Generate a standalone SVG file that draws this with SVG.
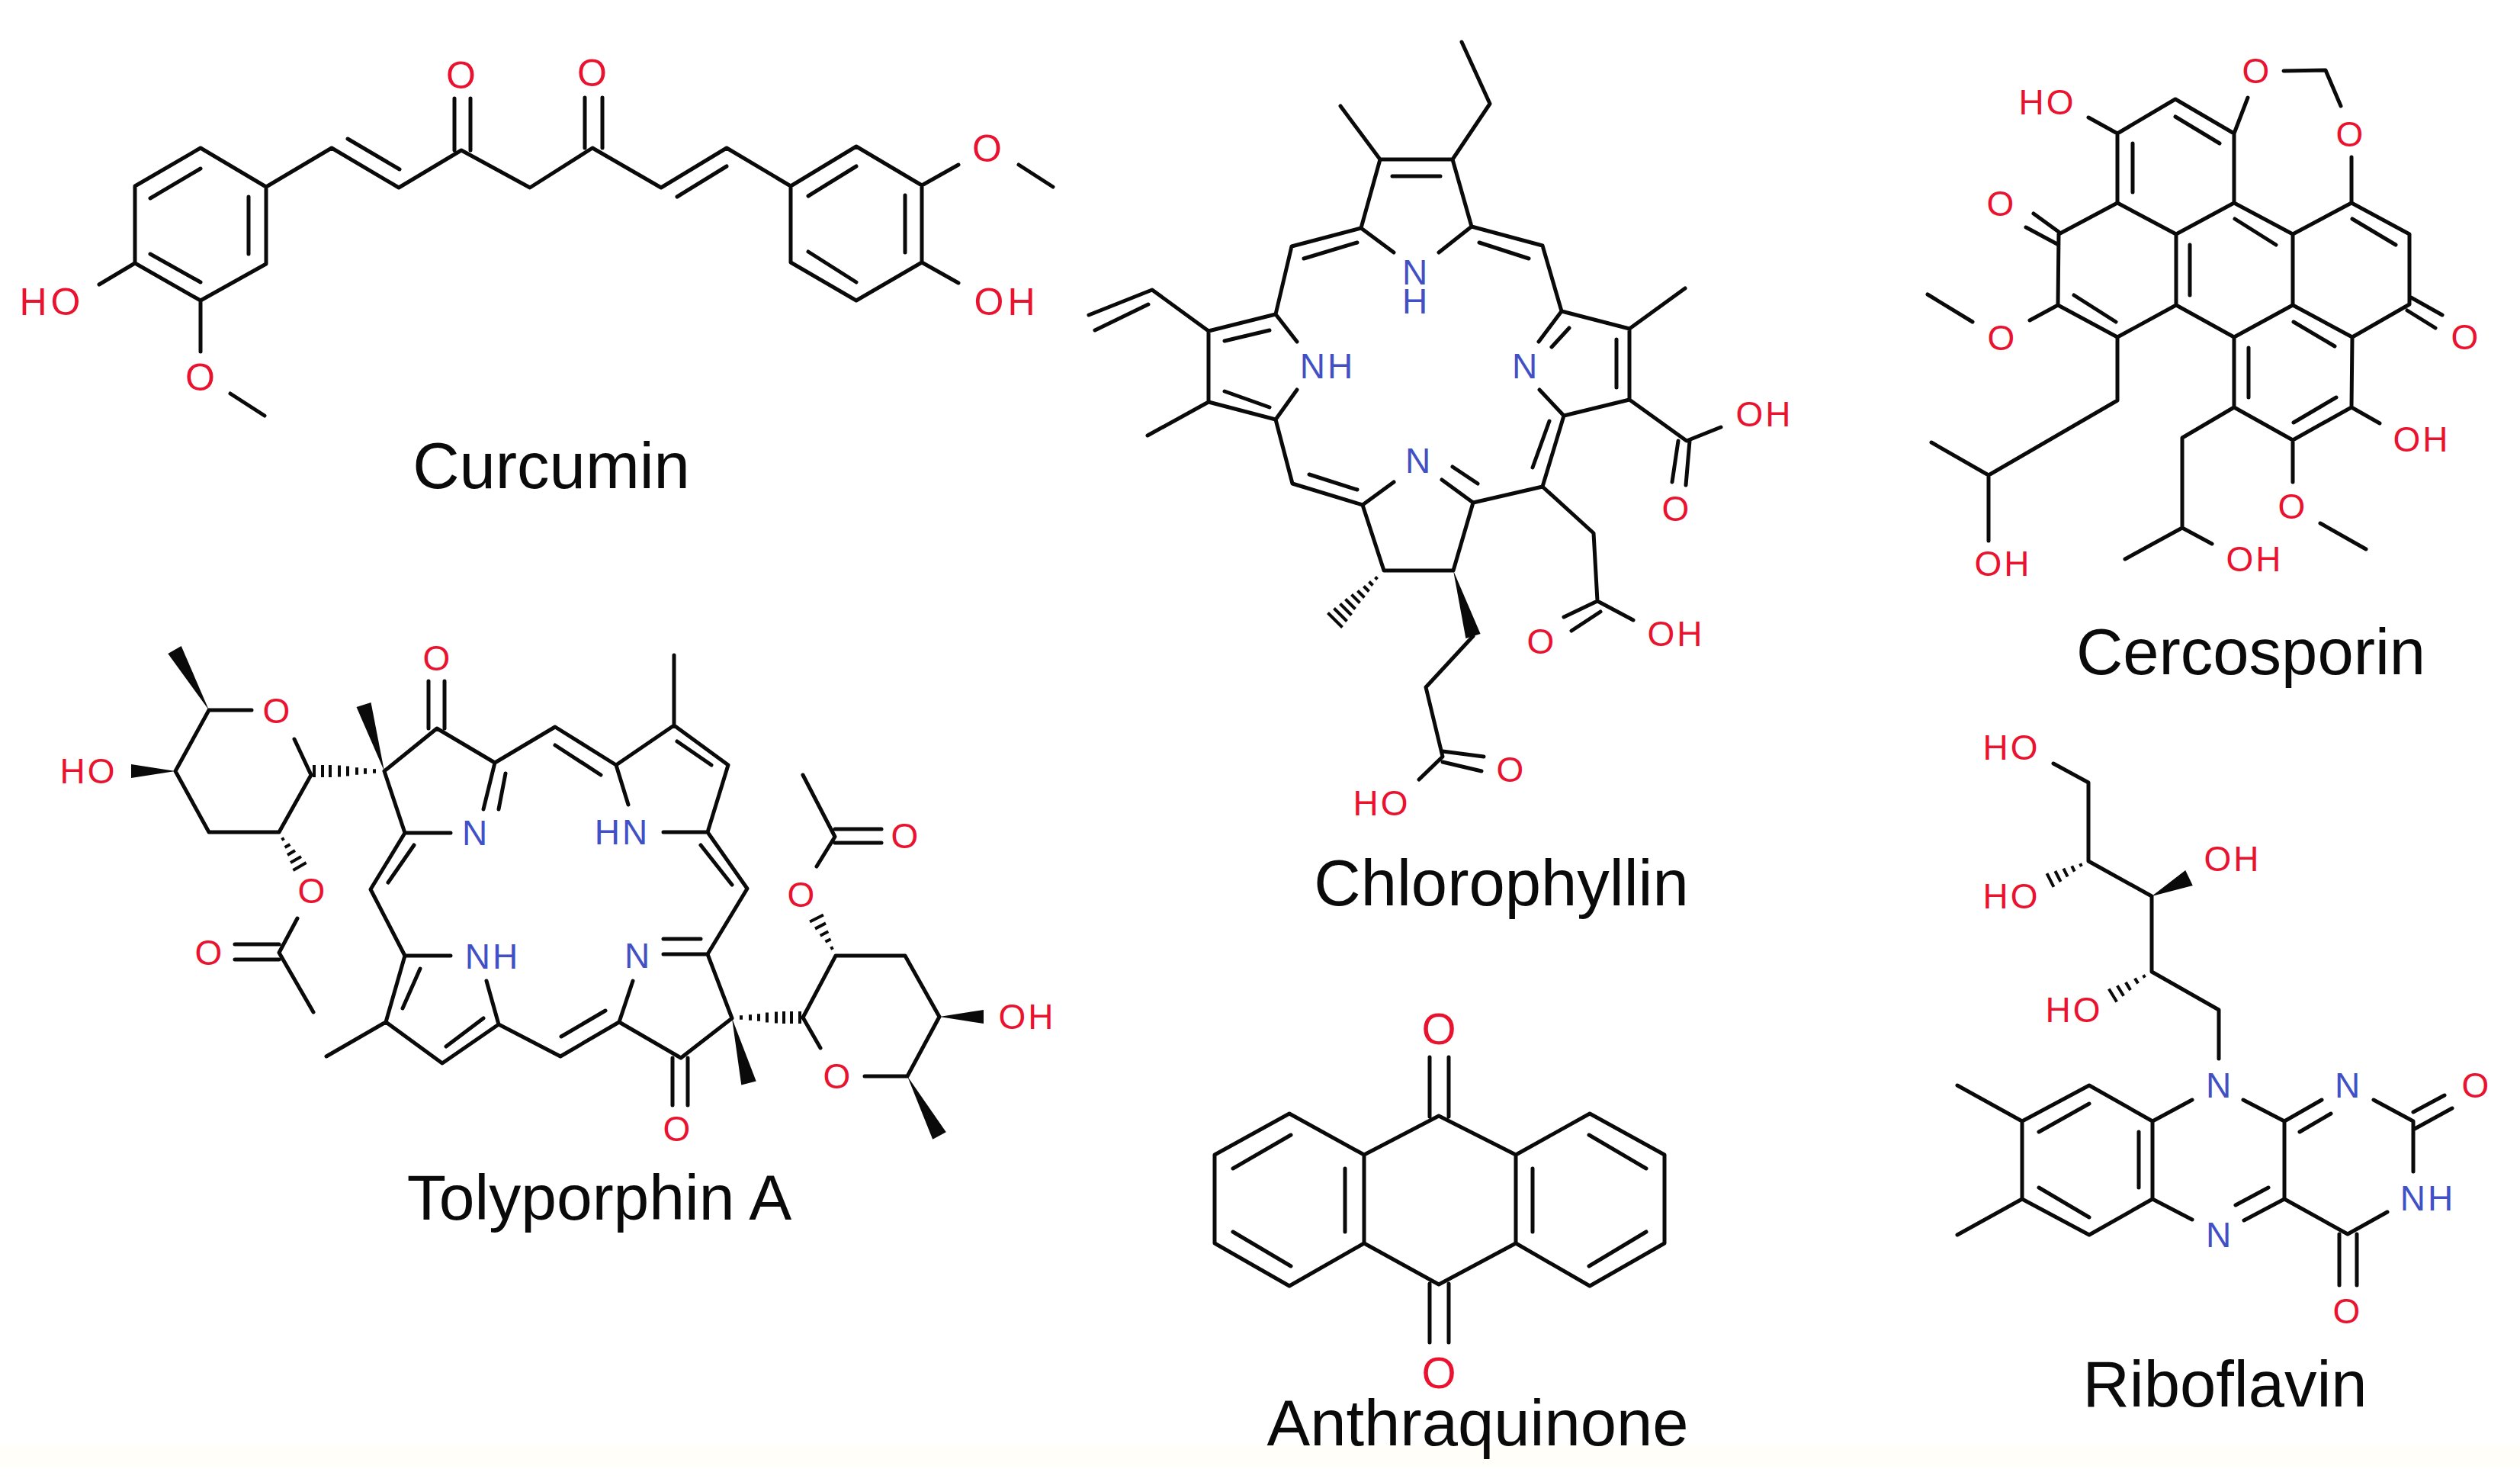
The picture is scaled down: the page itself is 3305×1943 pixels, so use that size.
<svg xmlns="http://www.w3.org/2000/svg" width="3305" height="1943" viewBox="0 0 3305 1943">
<style>
.bond{fill:none;stroke:#0a0a0a;stroke-width:5;stroke-linecap:round;stroke-linejoin:round}
.hash{fill:none;stroke:#0a0a0a;stroke-width:4}
.wedge{fill:#0a0a0a;stroke:none}
text{font-family:"Liberation Sans",Arial,sans-serif;text-anchor:middle}
.r{fill:#e9132f}.b{fill:#4150c4}
.a{font-size:46px;letter-spacing:3px}.c{font-size:50px;letter-spacing:5px}.q{font-size:58px}
.name{font-size:85px;fill:#0a0a0a}
</style>
<rect width="3305" height="1943" fill="#ffffff"/>
<rect y="1895" width="3305" height="28" fill="#fffef9"/>
<g id="curcumin">
<path class="bond" d="M263 194L349 245L349 346L263 394L177 345L177 244ZM197 260L263 221M326 258L326 333M197 333L263 370M349 245L435 194L523 246L605 197L695 246L777 194L867 246L953 194L1037 244L1123 192L1209 243L1209 344L1123 394L1037 344L1037 244M456 182L524 222M888 258L953 218M596 197L596 129M617 197L617 129M767 194L767 128M790 194L790 128M1060 257L1123 218M1187 256L1187 331M1060 330L1123 370M1209 243L1257 216M1336 216L1381 245M1209 344L1257 371M177 345L130 373M263 394L263 461M302 516L347 545"/>
<text class="c r" x="607" y="116">O</text>
<text class="c r" x="779" y="113">O</text>
<text class="c r" x="1297" y="212">O</text>
<text class="c r" x="1320" y="413">OH</text>
<text class="c r" x="68" y="413">HO</text>
<text class="c r" x="265" y="512">O</text>
<text class="name" x="723" y="640">Curcumin</text>
</g>
<g id="chlorophyllin">
<path class="bond" d="M1810 209L1905 209L1930 297M1810 209L1785 299M1785 299L1828 331M1930 297L1887 331M1826 231L1889 231M1905 209L1954 136L1917 55M1810 209L1758 139M1785 299L1694 323L1673 412M1710 339L1780 318M1673 412L1585 434L1585 527L1673 550M1673 412L1701 448M1673 550L1701 511M1606 447L1665 433M1606 513L1665 534M1585 434L1511 380L1428 413M1506 399L1436 433M1585 527L1505 571M1673 550L1695 634L1787 662M1717 622L1780 642M1787 662L1815 748L1906 748L1932 659M1787 662L1828 632M1932 659L1891 629M1905 612L1938 634M1932 659L2023 638L2051 545M2010 613L2032 552M2051 545L2137 524L2137 431L2048 408M2051 545L2019 511M2048 408L2018 448M2120 445L2120 508M2035 455L2058 430M1930 297L2023 322L2048 408M1940 318L2005 339M2137 431L2210 378M2137 524L2212 578L2257 560M2201 578L2193 632M2216 578L2211 636M2023 638L2090 699L2095 788L2142 813M2095 788L2051 809M2099 802L2061 827M1932 834L1870 901L1892 992L1861 1022M1892 985L1946 992M1892 999L1943 1011"/>
<path class="hash" d="M1803.500 756.500L1806.500 759.500M1795.500 762.500L1800.500 767.500M1788.500 768.500L1795.500 775.500M1780.500 774.500L1789.500 783.500M1772.500 779.500L1783.500 790.500M1764.500 785.500L1777.500 798.500M1757.500 791.500L1772.500 806.500M1749.500 797.500L1766.500 814.500M1741.500 803.500L1760.500 822.500"/>
<polygon class="wedge" points="1906,748 1941.6,831 1922.4,837"/>
<text class="a b" x="1857" y="373">N<tspan x="1857" y="411">H</tspan></text>
<text class="a b" x="1741" y="496">NH</text>
<text class="a b" x="2001" y="496">N</text>
<text class="a b" x="1861" y="620">N</text>
<text class="a r" x="2314" y="559">OH</text>
<text class="a r" x="2199" y="683">O</text>
<text class="a r" x="2198" y="847">OH</text>
<text class="a r" x="2022" y="857">O</text>
<text class="a r" x="1812" y="1069">HO</text>
<text class="a r" x="1982" y="1025">O</text>
<text class="name" x="1969" y="1187">Chlorophyllin</text>
</g>
<g id="cercosporin">
<path class="bond" d="M2777 175L2853 130L2930 175L2930 266L2854 307L2777 266ZM2777 266L2700 307L2699 400L2777 442L2854 400L2854 307M2854 400L2930 442L3007 400L3007 307L2930 266M3007 307L3084 266L3160 307L3160 399L3085 442L3007 400M3085 442L3084 534L3007 577L2930 534L2930 442M2797 188L2797 252M2853 153L2911 188M2931 287L2985 321M2872 321L2872 387M2720 387L2775 422M3085 287L3142 321M3008 422L3062 454M2949 456L2949 521M3008 554L3064 521M2700 304L2667 280M2698 320L2657 298M3162 390L3203 413M3157 407L3194 430M2777 175L2739 154M2930 175L2948 128M2995 93L3050 92L3070 139M3084 206L3084 266M2699 400L2662 420M2587 422L2528 386M2777 442L2777 525L2608 623L2533 580M2608 623L2608 709M2930 534L2862 574L2862 692L2787 733M2862 692L2901 713M3084 534L3121 555M3007 577L3007 632M3043 686L3103 720"/>
<text class="a r" x="2625" y="283">O</text>
<text class="a r" x="3234" y="458">O</text>
<text class="a r" x="2685" y="150">HO</text>
<text class="a r" x="2960" y="109">O</text>
<text class="a r" x="3083" y="192">O</text>
<text class="a r" x="2626" y="459">O</text>
<text class="a r" x="2627" y="755">OH</text>
<text class="a r" x="2957" y="749">OH</text>
<text class="a r" x="3176" y="592">OH</text>
<text class="a r" x="3007" y="680">O</text>
<text class="name" x="2952" y="884">Cercosporin</text>
</g>
<g id="tolyporphin-a">
<path class="bond" d="M274 931L330 931M386 969L408 1016L366 1091L274 1091L230 1011L274 931M390 1204L366 1249L411 1327M308 1238L366 1238M308 1258L366 1258M504 1011L573 955L649 1000L634 1061M663 1014L654 1061M562 955L562 893M583 955L583 893M591 1092L531 1092L504 1011M531 1092L486 1166L531 1253L591 1253M543 1108L509 1157M638 1286L654 1343M531 1253L506 1340L580 1394L654 1343M551 1270L528 1322M585 1372L634 1335M506 1340L428 1385M654 1343L735 1385L812 1340L830 1286M736 1359L794 1325M870 1251L928 1251M870 1231L919 1231M928 1251L980 1165L928 1091M960 1160L919 1108M928 1091L870 1091M824 1055L808 1003L728 953L649 1000M728 977L788 1016M808 1003L884 951L955 1003L928 1091M888 972L933 1003M884 951L884 859M928 1251L960 1335L893 1387L812 1340M882 1387L882 1449M902 1387L902 1449M1053 1334L1076 1374M1134 1411L1190 1411L1232 1333L1187 1253L1096 1253L1053 1334M1071 1136L1095 1097L1053 1016M1095 1087L1156 1087M1095 1105L1156 1105"/>
<path class="hash" d="M412 1003L412 1019M423 1003L423 1019M433 1003L433 1019M445 1003.500L445 1018.500M456 1004.500L456 1017.500M468 1006.300L468 1015.700M479 1007.300L479 1014.700M491 1008.200L491 1013.800M972 1331.200L972 1336.800M984 1330.300L984 1337.700M995 1329.300L995 1338.700M1006 1327.500L1006 1340.500M1018 1326.500L1018 1341.500M1028 1326L1028 1342M1038 1326L1038 1342M1049 1326L1049 1342M369.300 1101L372.700 1099M373.600 1111L380.400 1107M377 1121L387 1115M381 1131L395 1123M384.400 1141L401.600 1131M1089.200 1243.900L1092.800 1242.100M1082.400 1234.800L1089.600 1231.200M1075.700 1226.700L1086.300 1221.300M1069 1217.600L1083 1210.400M1062.100 1208.500L1079.900 1199.500"/>
<polygon class="wedge" points="274,931 237.700,847 220.300,857"/>
<polygon class="wedge" points="504,1011 486.500,921 467.500,927"/>
<polygon class="wedge" points="230,1011 172,1002 172,1020"/>
<polygon class="wedge" points="960,1335 991.700,1417.500 972.300,1422.500"/>
<polygon class="wedge" points="1190,1411 1240.800,1484.300 1223.200,1493.700"/>
<polygon class="wedge" points="1232,1333 1290,1324 1290,1342"/>
<text class="a r" x="364" y="948">O</text>
<text class="a r" x="116" y="1027">HO</text>
<text class="a r" x="410" y="1184">O</text>
<text class="a r" x="275" y="1265">O</text>
<text class="a r" x="574" y="879">O</text>
<text class="a b" x="624" y="1108">N</text>
<text class="a b" x="646" y="1270">NH</text>
<text class="a b" x="837" y="1269">N</text>
<text class="a b" x="816" y="1107">HN</text>
<text class="a r" x="889" y="1496">O</text>
<text class="a r" x="1099" y="1427">O</text>
<text class="a r" x="1347" y="1349">OH</text>
<text class="a r" x="1052" y="1189">O</text>
<text class="a r" x="1188" y="1112">O</text>
<text class="name" x="786" y="1599" style="font-size:84px">Tolyporphin A</text>
</g>
<g id="riboflavin">
<path class="bond" d="M2693 1001L2739 1026L2739 1129L2822 1175L2822 1274L2910 1324L2910 1388M2567 1423L2652 1470L2740 1423L2823 1470L2823 1572L2740 1619L2652 1572L2652 1470M2652 1572L2567 1619M2674 1484L2740 1447M2805 1484L2805 1557M2674 1557L2740 1596M2823 1470L2875 1442M2942 1442L2996 1470L3045 1442M3016 1484L3057 1460M3113 1442L3165 1470L3165 1536M3165 1458L3206 1436M3165 1481L3216 1453M3131 1589L3079 1618L2996 1572L2996 1470M3068 1618L3068 1685M3091 1618L3091 1685M2996 1572L2943 1600M2932 1580L2975 1557M2823 1572L2875 1599"/>
<path class="hash" d="M2728.100 1132.200L2729.900 1135.800M2717.200 1135.400L2720.800 1142.600M2706.300 1138.700L2711.700 1149.300M2695.400 1142L2702.600 1156M2684.500 1145.100L2693.500 1162.900M2811 1278.300L2813 1281.700M2799.900 1282.600L2804.100 1289.400M2787.900 1287.900L2794.100 1298.100M2776.800 1292.200L2785.200 1305.800M2765.800 1296.500L2776.200 1313.500"/>
<polygon class="wedge" points="2822,1175 2875.800,1160.900 2866.200,1141.100"/>
<text class="a r" x="2638" y="996">HO</text>
<text class="a r" x="2638" y="1191">HO</text>
<text class="a r" x="2928" y="1142">OH</text>
<text class="a r" x="2720" y="1340">HO</text>
<text class="a b" x="2911" y="1439">N</text>
<text class="a b" x="3080" y="1439">N</text>
<text class="a r" x="3248" y="1439">O</text>
<text class="a b" x="3184" y="1587">NH</text>
<text class="a r" x="3079" y="1735">O</text>
<text class="a b" x="2911" y="1635">N</text>
<text class="name" x="2918" y="1844">Riboflavin</text>
</g>
<g id="anthraquinone">
<path class="bond" d="M1887 1463L1789 1514L1789 1630L1887 1684L1988 1630L1988 1514ZM1789 1514L1691 1460L1593 1514L1593 1630L1691 1686L1789 1630M1988 1514L2085 1460L2183 1514L2183 1630L2085 1686L1988 1630M1617 1532L1693 1488M1764 1532L1764 1615M1617 1615L1693 1660M2010 1532L2010 1615M2084 1488L2159 1532M2084 1660L2159 1615M1875 1386L1875 1464M1900 1386L1900 1464M1875 1683L1875 1760M1900 1683L1900 1760"/>
<text class="q r" x="1887" y="1369">O</text>
<text class="q r" x="1887" y="1820">O</text>
<text class="name" x="1938" y="1895">Anthraquinone</text>
</g>
</svg>
